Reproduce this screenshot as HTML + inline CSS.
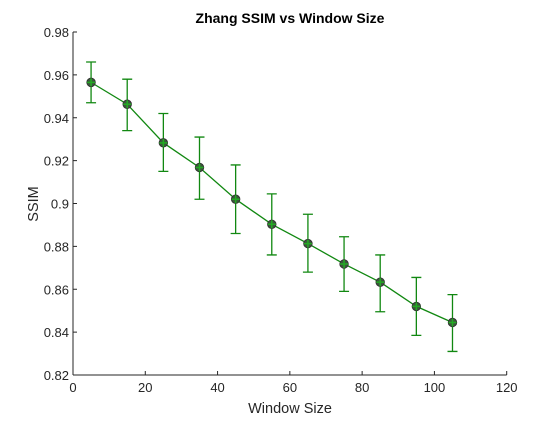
<!DOCTYPE html>
<html><head><meta charset="utf-8"><style>
body{margin:0;background:#fff}
text{font-family:"Liberation Sans",sans-serif}
</style></head><body>
<svg id="chart" width="560" height="420" xmlns="http://www.w3.org/2000/svg"></svg>
<script>
const windowSizes=[5,15,25,35,45,55,65,75,85,95,105];
const ssimMean=[0.9565,0.9463,0.9283,0.9168,0.902,0.8903,0.8813,0.8718,0.8633,0.852,0.8445];
const ssimUpper=[0.966,0.958,0.942,0.931,0.918,0.9045,0.895,0.8845,0.876,0.8655,0.8575];
const ssimLower=[0.947,0.934,0.915,0.902,0.886,0.876,0.868,0.859,0.8495,0.8385,0.831];
const xTicks=[0,20,40,60,80,100,120];
const yTicks=[0.82,0.84,0.86,0.88,0.9,0.92,0.94,0.96,0.98];
const yTickLabels=["0.82","0.84","0.86","0.88","0.9","0.92","0.94","0.96","0.98"];

const svg=document.getElementById('chart');
const NS="http://www.w3.org/2000/svg";
const X0=73,X1=506.7,Y0=375,Y1=32;
const sx=v=>X0+(v-0)/(120-0)*(X1-X0);
const sy=v=>Y0-(v-0.82)/(0.98-0.82)*(Y0-Y1);
function mk(tag,attrs,parent){const e=document.createElementNS(NS,tag);for(const k in attrs)e.setAttribute(k,attrs[k]);(parent||svg).appendChild(e);return e;}

const axes=mk('g',{});


mk('line',{x1:X0,y1:Y0,x2:X1,y2:Y0,stroke:'#262626','stroke-width':1},axes);
mk('line',{x1:X0,y1:Y0,x2:X0,y2:Y1,stroke:'#262626','stroke-width':1},axes);
xTicks.forEach((t,i)=>{
  mk('line',{x1:sx(t),y1:Y0,x2:sx(t),y2:Y0-4,stroke:'#262626'},axes);
  const tx=mk('text',{x:sx(t),y:Y0+17,'text-anchor':'middle','font-size':13,fill:'#262626'},axes);
  tx.textContent=t;
  
  
});
yTicks.forEach((t,i)=>{
  mk('line',{x1:X0,y1:sy(t),x2:X0+4,y2:sy(t),stroke:'#262626'},axes);
  const tx=mk('text',{x:X0-4,y:sy(t)+5,'text-anchor':'end','font-size':13,fill:'#262626'},axes);
  tx.textContent=yTickLabels[i];
  
  
});
const title=mk('text',{x:290,y:23,'text-anchor':'middle','font-size':14,'font-weight':'bold',fill:'#000'});
title.textContent='Zhang SSIM vs Window Size';


const xl=mk('text',{x:290,y:413,'text-anchor':'middle','font-size':14.5,fill:'#262626'});
xl.textContent='Window Size';


const yl=mk('text',{x:0,y:0,'text-anchor':'middle','font-size':14.5,fill:'#262626',transform:'translate(38,204) rotate(-90)'});
yl.textContent='SSIM';



const g=mk('g',{});


const C='#118811';
windowSizes.forEach((w,i)=>{
  const x=sx(w);
  const eb=mk('path',{d:`M${x},${sy(ssimLower[i])}V${sy(ssimUpper[i])}M${x-5},${sy(ssimLower[i])}H${x+5}M${x-5},${sy(ssimUpper[i])}H${x+5}`,stroke:C,'stroke-width':1.3,fill:'none'},g);
  
  
});
const line=mk('polyline',{points:windowSizes.map((w,i)=>sx(w)+','+sy(ssimMean[i])).join(' '),stroke:C,'stroke-width':1.3,fill:'none'},g);


windowSizes.forEach((w,i)=>{
  const x=sx(w),y=sy(ssimMean[i]);
  const m=mk('g',{},g);
  
  
  mk('circle',{cx:x,cy:y,r:4.2,fill:'#3a5a3a',stroke:'#333','stroke-width':1},m);
  mk('path',{d:`M${x-4},${y}H${x+4}M${x},${y-4}V${y+4}`,stroke:'#22aa22','stroke-width':1.5},m);
});
</script>
</body></html>
